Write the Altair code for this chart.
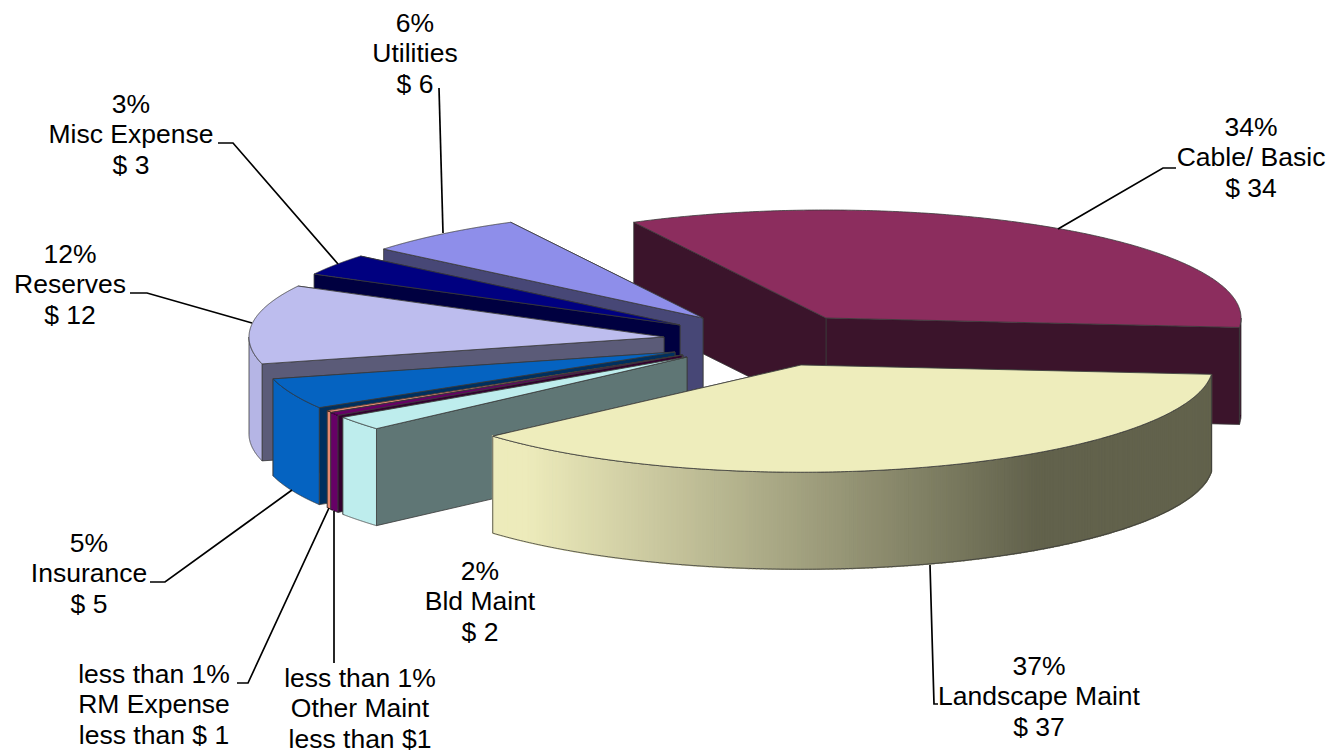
import math
import altair as alt
import pandas as pd

# ---- chart values ----
CATEGORIES = ["Cable/ Basic", "Landscape Maint", "Bld Maint", "Other Maint", "RM Expense",
              "Insurance", "Reserves", "Misc Expense", "Utilities"]
VALUES = [34, 37, 2.1, 0.5, 0.33, 4.6, 11.8, 3.2, 6.3]
PCT_TEXT = ["34%", "37%", "2%", "less than 1%", "less than 1%", "5%", "12%", "3%", "6%"]
USD_TEXT = ["$ 34", "$ 37", "$ 2", "less than $1", "less than $ 1", "$ 5", "$ 12", "$ 3", "$ 6"]

# ---- styling ----
TOP = ["#8C2D5E", "#EEEDBC", "#BEEDED", "#660066", "#E58A70", "#0563C1", "#BDBDEE", "#000080", "#8E8EEA"]
SIDE = ["#3B142B", "#62624C", "#5F7675", "#33002F", "#72453A", "#00305F", "#5B5B78", "#000040", "#474776"]
OUTER = ["#3B142B", None, "#BEEDED", "#660066", "#E58A70", "#0563C1", "#B5B5E5", "#000080", "#8E8EEA"]
# pie geometry: exploded hub of each slice, ellipse radii, thickness, first-slice angle
HUB_X = [826, 801, 687, 682, 683, 675, 664, 680, 703]
HUB_Y = [318, 365, 357, 355, 355, 352, 337, 325, 318]
SLICE_RX = [415, 412, 415, 415, 415, 415, 415, 415, 415]
RY_RATIO = 108 / 415
DEPTH = 97
START_ANGLE = 242.4
PAINT_ORDER = [0, 8, 7, 6, 5, 4, 3, 2, 1]
GRAD_X0, GRAD_X1 = 525, 1035
GRAD_C0, GRAD_C1 = (0xED, 0xEB, 0xBB), (0x62, 0x62, 0x4C)
EDGE = "#3a3a3a"
W, H, OX, OY = 1318, 747, 8, 8

# label blocks: centre x, y of first line
LABEL_X = [1251, 1039, 480, 360, 154, 89, 70, 131, 415]
LABEL_Y = [127.5, 666.5, 571.5, 678.5, 674.5, 543.5, 254.5, 104.5, 23.5]
LINE_GAP = 30.6
LEADERS = {
    "Cable/ Basic": ([1058, 1163, 1176], [229, 168, 168]),
    "Landscape Maint": ([930, 934, 938], [565, 704, 704]),
    "Other Maint": ([334, 334], [511, 663]),
    "RM Expense": ([329, 248, 237], [508, 683, 683]),
    "Insurance": ([292, 165, 150], [490, 582, 582]),
    "Reserves": ([252, 147, 130], [323, 293, 293]),
    "Misc Expense": ([338, 233, 218], [264, 143, 143]),
    "Utilities": ([443, 439], [233, 88]),
}


def pt(i, t):
    a = math.radians(t)
    return (HUB_X[i] + SLICE_RX[i] * math.cos(a), HUB_Y[i] + SLICE_RX[i] * RY_RATIO * math.sin(a))


def drop(p):
    return (p[0], p[1] + DEPTH)


def poly(points, fill, stroke=EDGE, sw=0.8):
    ring = [list(p) for p in points] + [list(points[0])]
    return {"type": "Feature",
            "geometry": {"type": "Polygon", "coordinates": [ring]},
            "properties": {"fill": fill, "stroke": stroke, "sw": sw}}


def arc(i, t0, t1, n=240):
    return [pt(i, t0 + (t1 - t0) * k / n) for k in range(n + 1)]


def grad(x):
    f = min(1, max(0, (x - GRAD_X0) / (GRAD_X1 - GRAD_X0)))
    return "#%02x%02x%02x" % tuple(round(a + (b - a) * f) for a, b in zip(GRAD_C0, GRAD_C1))


total = sum(VALUES)
angles = []
cur = START_ANGLE - 360
for v in VALUES:
    angles.append((cur, cur + v / total * 360))
    cur += v / total * 360

features = []
for i in PAINT_ORDER:
    t0, t1 = angles[i]
    hub = (HUB_X[i], HUB_Y[i])
    e0, e1 = pt(i, t0), pt(i, t1)
    # radial walls: far edge first
    features.append(poly([hub, e1, drop(e1), drop(hub)], SIDE[i]))
    features.append(poly([hub, e0, drop(e0), drop(hub)], SIDE[i]))
    # outer curved wall: only the part facing the viewer
    lo, hi = max(t0, 0), min(t1, 180)
    if lo < hi:
        ring = arc(i, lo, hi)
        shell = ring + [drop(p) for p in reversed(ring)]
        if OUTER[i] is None:
            for a, b in zip(ring[:-1], ring[1:]):
                c = grad((a[0] + b[0]) / 2)
                features.append(poly([a, b, drop(b), drop(a)], c, c, 1.6))
            features.append(poly(shell, "transparent"))
        else:
            features.append(poly(shell, OUTER[i]))
    features.append(poly([hub] + arc(i, t0, t1), TOP[i]))

pie = alt.Chart(alt.Data(values=features)).mark_geoshape().encode(
    fill=alt.Fill("properties.fill:N", scale=None, legend=None),
    stroke=alt.Stroke("properties.stroke:N", scale=None, legend=None),
    strokeWidth=alt.StrokeWidth("properties.sw:Q", scale=None, legend=None),
).project(type="identity", scale=1, translate=[-OX, -OY])

xs = alt.Scale(domain=[OX, OX + W], range=[0, W])
ys = alt.Scale(domain=[OY, OY + H], range=[0, H])

rows = []
for name, (lx, ly) in LEADERS.items():
    for k, (x, y) in enumerate(zip(lx, ly)):
        rows.append({"name": name, "k": k, "x": x, "y": y})
leaders = alt.Chart(pd.DataFrame(rows)).mark_line(color="#000000", strokeWidth=1.7).encode(
    x=alt.X("x:Q", scale=xs, axis=None),
    y=alt.Y("y:Q", scale=ys, axis=None),
    detail="name:N",
    order="k:Q",
)

tr = []
for c, p, u, x, y in zip(CATEGORIES, PCT_TEXT, USD_TEXT, LABEL_X, LABEL_Y):
    for k, s in enumerate([p, c, u]):
        tr.append({"t": s, "x": x, "y": y + k * LINE_GAP})
labels = alt.Chart(pd.DataFrame(tr)).mark_text(
    font="Liberation Sans", fontSize=26.5, color="#000000", align="center", baseline="middle"
).encode(
    x=alt.X("x:Q", scale=xs, axis=None),
    y=alt.Y("y:Q", scale=ys, axis=None),
    text="t:N",
)

chart = alt.layer(pie, leaders, labels).resolve_scale(x="shared", y="shared").properties(
    width=W, height=H, padding=0, autosize=alt.AutoSizeParams(type="none"), background="#ffffff"
).configure_view(stroke=None)

chart.save("out.html", embed_options={"renderer": "svg", "actions": False})
